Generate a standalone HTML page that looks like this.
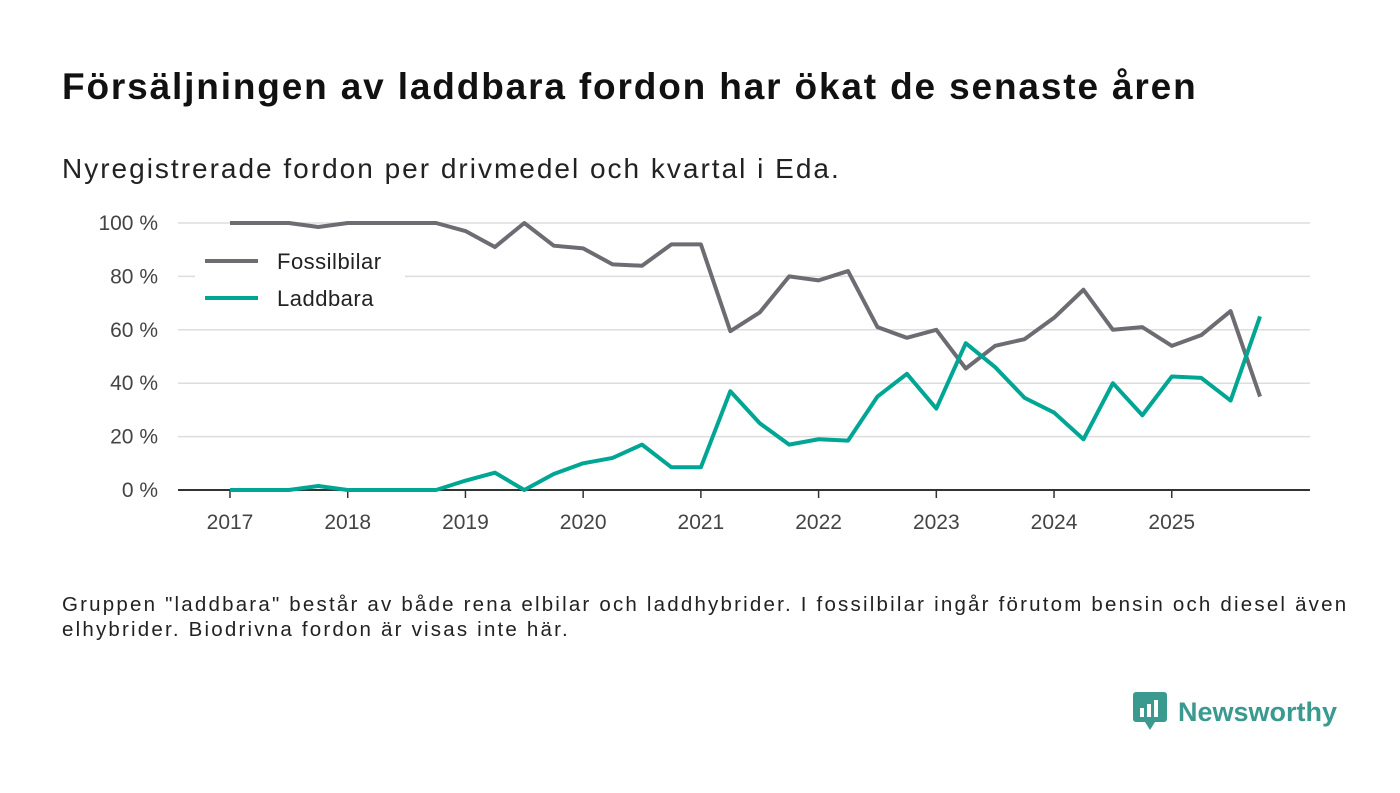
<!DOCTYPE html>
<html><head><meta charset="utf-8">
<style>
body{margin:0;width:1400px;height:793px;background:#fff;font-family:"Liberation Sans",sans-serif;overflow:hidden;position:relative}
.t{position:absolute;left:62px;top:66px;font-size:37px;font-weight:bold;color:#111;letter-spacing:1.85px;white-space:nowrap}
.s{position:absolute;left:62px;top:153px;font-size:28px;color:#222;letter-spacing:2.0px;white-space:nowrap}
.n{position:absolute;left:62px;top:592px;font-size:20.5px;color:#222;line-height:25px;letter-spacing:2.2px;white-space:nowrap}
.logo{position:absolute;left:1133px;top:692px;display:flex;align-items:center}
.logo span{font-size:27px;font-weight:bold;color:#3a9a8f;margin-left:11px}
</style></head><body>
<div class="t">Försäljningen av laddbara fordon har ökat de senaste åren</div>
<div class="s">Nyregistrerade fordon per drivmedel och kvartal i Eda.</div>
<svg id="c" width="1400" height="793" style="position:absolute;left:0;top:0"></svg>
<div class="n">Gruppen "laddbara" består av både rena elbilar och laddhybrider. I fossilbilar ingår förutom bensin och diesel även<br>elhybrider. Biodrivna fordon är visas inte här.</div>
<div class="logo">
<svg width="34" height="40"><rect x="0" y="0" width="34" height="30" rx="3" fill="#3a9a8f"/><polygon points="12,30 22,30 17,38" fill="#3a9a8f"/><rect x="7" y="16" width="4" height="9" fill="#fff"/><rect x="14" y="12" width="4" height="13" fill="#fff"/><rect x="21" y="8" width="4" height="17" fill="#fff"/></svg>
<span>Newsworthy</span></div>
<script>
const years=["2017","2018","2019","2020","2021","2022","2023","2024","2025"];
const yTicks=[0,20,40,60,80,100];
const fossil=[100,100,100,98.5,100,100,100,100,97,91,100,91.5,90.5,84.5,84,92,92,59.5,66.5,80,78.5,82,61,57,60,45.5,54,56.5,64.5,75,60,61,54,58,67,35];
const laddbara=[0,0,0,1.5,0,0,0,0,3.5,6.5,0,6,10,12,17,8.5,8.5,37,25,17,19,18.5,35,43.5,30.5,55,46,34.5,29,19,40,28,42.5,42,33.5,65];
const svg=document.getElementById('c');const NS='http://www.w3.org/2000/svg';
const x=i=>230+i*29.43, y=v=>490-v*2.67;
function el(t,a,p){const e=document.createElementNS(NS,t);for(const k in a)e.setAttribute(k,a[k]);(p||svg).appendChild(e);return e;}
yTicks.forEach(v=>{
 const g=el('line',{x1:178,x2:1310,y1:y(v),y2:y(v),stroke:v?'#ddd':'#333','stroke-width':v?1.5:2});
 
 
 const t=el('text',{x:158,y:y(v)+7,'text-anchor':'end','font-size':21,fill:'#444'});t.textContent=v+' %';
 
 
});
years.forEach((yr,k)=>{
 const xx=x(k*4);
 const tk=el('line',{x1:xx,x2:xx,y1:490,y2:498,stroke:'#333','stroke-width':1.5});
 
 
 const t=el('text',{x:xx,y:529,'text-anchor':'middle','font-size':21,fill:'#444'});t.textContent=yr;
 
 
});
function line(d,c,n){const p=el('polyline',{points:d.map((v,i)=>x(i)+','+y(v)).join(' '),fill:'none',stroke:c,'stroke-width':4,'stroke-linejoin':'round'});
 
 }
line(fossil,'#6d6c72','fossilbilar-line');
line(laddbara,'#00a694','laddbara-line');
el('rect',{x:195,y:243,width:210,height:75,fill:'#fff'});
[['Fossilbilar','#6d6c72',261],['Laddbara','#00a694',298]].forEach(([n,c,yy])=>{
 const l=el('line',{x1:205,x2:258,y1:yy,y2:yy,stroke:c,'stroke-width':4});
 
 
 const t=el('text',{x:277,y:yy+8,'font-size':22,fill:'#222','letter-spacing':0.5});t.textContent=n;
 
 
});
</script>
</body></html>
